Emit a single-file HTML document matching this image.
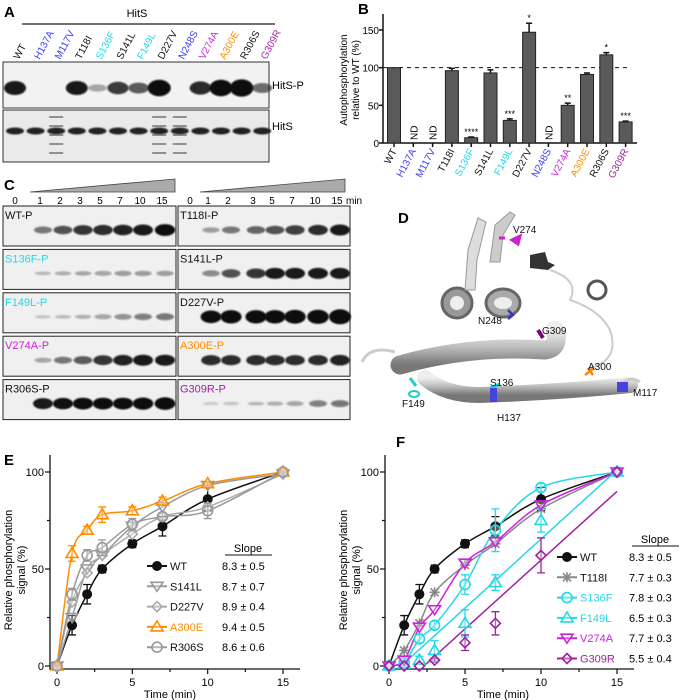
<!DOCTYPE html>
<html><head><meta charset="utf-8">
<style>
html,body{margin:0;padding:0;background:#fff;}
svg{display:block;font-family:"Liberation Sans",Arial,sans-serif;}
</style></head>
<body>
<svg id="fig" width="683" height="700" viewBox="0 0 683 700" xmlns="http://www.w3.org/2000/svg">
<defs>
<filter id="blur2" x="-50%" y="-50%" width="200%" height="200%"><feGaussianBlur stdDeviation="0.9"/></filter>
<linearGradient id="helix" x1="0" y1="0" x2="0" y2="1"><stop offset="0" stop-color="#eee"/><stop offset="0.5" stop-color="#bbb"/><stop offset="1" stop-color="#777"/></linearGradient>
</defs>

<text x="4" y="17" font-size="15" font-weight="bold">A</text>
<text x="358" y="14" font-size="15" font-weight="bold">B</text>
<text x="4" y="190" font-size="15" font-weight="bold">C</text>
<text x="398" y="223" font-size="15" font-weight="bold">D</text>
<text x="4" y="465" font-size="15" font-weight="bold">E</text>
<text x="396" y="447" font-size="15" font-weight="bold">F</text>

<g id="panelA"></g>
<g id="panelB"></g>
<g id="panelC"></g>
<g id="panelD">
  <path d="M400,365 Q470,345 545,350 Q560,348 555,330" fill="none" stroke="url(#helix)" stroke-width="19" stroke-linecap="round"/>
  <path d="M362,362 Q370,345 395,352" fill="none" stroke="#ccc" stroke-width="3"/>
  <path d="M425,378 Q445,395 480,395 Q560,392 630,385" fill="none" stroke="url(#helix)" stroke-width="16" stroke-linecap="round"/>
  <path d="M537,290 L537,345" fill="none" stroke="url(#helix)" stroke-width="19" stroke-linecap="round"/>
  <circle cx="457" cy="303" r="15" fill="#999" stroke="#666" stroke-width="3"/>
  <circle cx="457" cy="303" r="7" fill="#eee"/>
  <ellipse cx="503" cy="303" rx="17" ry="14" fill="#aaa" stroke="#666" stroke-width="3"/>
  <ellipse cx="503" cy="303" rx="9" ry="6" fill="#eee"/>
  <circle cx="597" cy="290" r="9" fill="none" stroke="#555" stroke-width="3"/>
  <path d="M465,290 L468,250 L478,218 L486,222 L477,260 L475,290 Z" fill="#ddd" stroke="#999"/>
  <path d="M490,262 L495,225 L510,212 L515,215 L503,235 L500,262 Z" fill="#ccc" stroke="#999"/>
  <path d="M530,255 L545,252 L548,262 L555,265 L548,270 L530,268 Z" fill="#333"/>
  <path d="M550,270 Q580,280 570,300 Q600,310 610,330 Q620,360 590,368" fill="none" stroke="#ccc" stroke-width="2"/>
  <path d="M620,385 Q630,375 640,382" fill="none" stroke="#ccc" stroke-width="3"/>
  <path d="M512,240 l8,-4 l-2,8 z M505,238 h-6" stroke="#cc22cc" stroke-width="3" fill="#cc22cc"/>
  <path d="M508,310 l5,5 l-5,4" stroke="#3333cc" stroke-width="2.5" fill="none"/>
  <path d="M538,330 l5,8" stroke="#800080" stroke-width="4"/>
  <path d="M585,375 l8,-6 M588,368 l5,7" stroke="#ff8800" stroke-width="2.5"/>
  <path d="M490,388 l10,-4 M410,378 l6,8" stroke="#22cccc" stroke-width="3"/>
  <ellipse cx="414" cy="394" rx="5" ry="3" fill="none" stroke="#22cccc" stroke-width="2"/>
  <rect x="490" y="388" width="7" height="14" fill="#4444dd"/>
  <rect x="617" y="382" width="11" height="10" fill="#4444dd"/>
  <g font-size="10" fill="#111">
    <text x="513" y="233">V274</text>
    <text x="478" y="324">N248</text>
    <text x="542" y="334">G309</text>
    <text x="588" y="370">A300</text>
    <text x="490" y="386">S136</text>
    <text x="402" y="407">F149</text>
    <text x="497" y="421">H137</text>
    <text x="633" y="396">M117</text>
  </g>
</g>
<g id="panelE"></g>
<g id="panelF"></g>
</svg>

<script>
const NS = "http://www.w3.org/2000/svg";
const C = {blue:"#3a3aff", cyan:"#22d8e8", mag:"#cc22dd", orange:"#ff8c00", purple:"#a020a0", black:"#111", gray:"#999"};

const bCategories = ["WT","H137A","M117V","T118I","S136F","S141L","F149L","D227V","N248S","V274A","A300E","R306S","G309R"];
const bColors = ["black","blue","blue","black","cyan","black","cyan","black","blue","mag","orange","black","purple"];
const bValues = [100,null,null,96,7,93,30,147,null,50,91,117,28];
const bErrors = [0,0,0,3,1,4,2,12,0,3,2,3,1];
const bStars = ["","","","","****","","***","*","","**","","*","***"];
const bTicks = [0,50,100,150];

const times = [0,1,2,3,5,7,10,15];
const wt = [0,21,37,50,63,72,86,100];
const wtErr = [0,5,5,2,2,5,6,1];
const s141l = [0,25,50,57,72,82,93,99];
const d227v = [0,33,48,57,68,77,82,99];
const a300e = [0,58,70,78,80,85,94,100];
const a300eErr = [0,4,2,4,2,2,1,0];
const r306s = [0,37,57,61,73,77,80,100];
const r306sErr = [0,3,3,4,3,2,4,0];
const t118i = [0,8,22,38,52,63,81,100];
const s136f = [0,2,14,21,42,70,92,100];
const s136fErr = [0,1,2,2,5,11,2,0];
const f149l = [0,1,3,8,22,43,75,100];
const f149lErr = [0,1,2,5,7,4,6,0];
const v274a = [0,3,20,29,53,64,83,100];
const g309r = [0,0,0,3,12,22,57,100];
const g309rErr = [0,0,0,1,4,6,9,0];
const f149lFit = [[0.8,0],[15,101]];
const g309rFit = [[2.3,0],[15,90]];
const xTicks = [0,5,10,15];
const yTicks = [0,50,100];
const eLegend = ["WT","S141L","D227V","A300E","R306S"];
const eSlopes = ["8.3 ± 0.5","8.7 ± 0.7","8.9 ± 0.4","9.4 ± 0.5","8.6 ± 0.6"];
const fLegend = ["WT","T118I","S136F","F149L","V274A","G309R"];
const fSlopes = ["8.3 ± 0.5","7.7 ± 0.3","7.8 ± 0.3","6.5 ± 0.3","7.7 ± 0.3","5.5 ± 0.4"];

const aLanes = ["WT","H137A","M117V","T118I","S136F","S141L","F149L","D227V","N248S","V274A","A300E","R306S","G309R"];
const aPhos = [1,0,0,1,0.15,0.8,0.6,1.3,0,0.9,1.3,1.4,0.5];
const cTimes = ["0","1","2","3","5","7","10","15"];
const cBlots = ["WT-P","T118I-P","S136F-P","S141L-P","F149L-P","D227V-P","V274A-P","A300E-P","R306S-P","G309R-P"];
const cBlotColors = ["black","black","cyan","black","cyan","black","mag","orange","black","purple"];
const cIntensity = [
 [0,0.5,0.7,0.85,0.9,0.95,1,1.1],
 [0,0.3,0.5,0.6,0.7,0.8,0.9,1],
 [0,0.1,0.15,0.2,0.25,0.3,0.3,0.3],
 [0,0.4,0.7,0.85,1,1,1,1],
 [0,0.05,0.08,0.15,0.25,0.35,0.45,0.5],
 [0,1.2,1.3,1.3,1.3,1.35,1.4,1.5],
 [0,0.25,0.5,0.65,0.85,0.95,1,1],
 [0,0.9,0.9,0.9,0.9,0.9,0.9,0.95],
 [0,1,1.05,1.1,1.1,1.1,1.15,1.2],
 [0,0.02,0.05,0.1,0.15,0.25,0.45,0.5]
];

function el(tag, attrs, parent){
  const e = document.createElementNS(NS, tag);
  for (const k in attrs) e.setAttribute(k, attrs[k]);
  parent.appendChild(e); return e;
}
function txt(s, attrs, parent){ const t = el("text", attrs, parent); t.textContent = s; return t; }

(function(){
  const g = document.getElementById("panelA");
  const t0 = txt("HitS", {x:137,y:17,"font-size":11,"text-anchor":"middle"}, g);
  
  
  const ln = el("line",{x1:22,y1:24,x2:275,y2:24,stroke:"#444","stroke-width":1.5},g);
  
  
  const lx = i => 15 + i*20.6;
  aLanes.forEach((n,i)=>{
    const t = txt(n,{x:lx(i)+4,y:60,"font-size":10,fill:C[bColors[i]],transform:`rotate(-62 ${lx(i)+4} 60)`},g);
    
    
  });
  const b1 = el("rect",{x:3,y:62,width:266,height:46,fill:"#f2f2f2",stroke:"#333","stroke-width":1},g);
  
  
  const b2 = el("rect",{x:3,y:110,width:266,height:52,fill:"#eaeaea",stroke:"#333","stroke-width":1},g);
  
  
  aLanes.forEach((n,i)=>{
    const v = aPhos[i];
    if (v>0){
      const b = el("ellipse",{cx:lx(i),cy:88,rx:9+v*2,ry:3+v*4,fill:"#111","fill-opacity":Math.min(1,0.25+v*0.7),filter:"url(#blur2)"},g);
      
      
    }
    const b = el("ellipse",{cx:lx(i),cy:131,rx:9,ry:3.5,fill:"#222",filter:"url(#blur2)"},g);
    
    
    if (i===2||i===7||i===8){
      for(let k=0;k<5;k++){
        const s = el("rect",{x:lx(i)-7,y:116+k*9,width:14,height:2,fill:"#555","fill-opacity":0.6},g);
        
        
      }
    }
  });
  const l1 = txt("HitS-P",{x:272,y:89,"font-size":11},g);
  
  
  const l2 = txt("HitS",{x:272,y:130,"font-size":11},g);
  
  
})();

(function(){
  const g = document.getElementById("panelB");
  const x0 = 383, y0 = 143, yTop = 30;
  const ys = v => y0 - v/150*(y0-yTop);
  const xc = i => 394 + i*19.3;
  const ax = el("path",{d:`M${x0},14 V${y0} H637`,fill:"none",stroke:"#111","stroke-width":1.5},g);
  
  
  bTicks.forEach(t=>{
    const tl = el("line",{x1:x0-4,y1:ys(t),x2:x0,y2:ys(t),stroke:"#111","stroke-width":1.5},g);
    
    
    const tt = txt(String(t),{x:x0-4,y:ys(t)+4,"font-size":10,"text-anchor":"end"},g);
    
    
  });
  const yl = txt("Autophosphorylation",{x:0,y:0,"font-size":10,"text-anchor":"middle",transform:`translate(347,80) rotate(-90)`},g);
  
  
  const yl2 = txt("relative to WT (%)",{x:0,y:0,"font-size":10,"text-anchor":"middle",transform:`translate(359,80) rotate(-90)`},g);
  
  
  const ref = el("line",{x1:x0,y1:ys(100),x2:630,y2:ys(100),stroke:"#111","stroke-dasharray":"4,4","stroke-width":1},g);
  
  
  bCategories.forEach((n,i)=>{
    const x = xc(i), v = bValues[i];
    const tk = el("line",{x1:x,y1:y0,x2:x,y2:y0+4,stroke:"#111","stroke-width":1.5},g);
    
    
    if (v===null){
      const nd = txt("ND",{x:0,y:0,"font-size":10,transform:`translate(${x+4},${y0-3}) rotate(-90)`},g);
      
      
    } else {
      const e = bErrors[i];
      if (e>0){
        const eb = el("path",{d:`M${x},${ys(v)} V${ys(v+e)} M${x-3},${ys(v+e)} H${x+3}`,stroke:"#111","stroke-width":1.5,fill:"none"},g);
        
        
      }
      const r = el("rect",{x:x-6.5,y:ys(v),width:13,height:y0-ys(v),fill:"#5a5a5a",stroke:"#222","stroke-width":1},g);
      
      
      if (bStars[i]){
        const s = txt(bStars[i],{x:x,y:ys(v+e)-2,"font-size":9,"text-anchor":"middle"},g);
        
        
      }
    }
    const lb = txt(n,{x:0,y:0,"font-size":10,fill:C[bColors[i]],"text-anchor":"end",transform:`translate(${x+3},${y0+8}) rotate(-62)`},g);
    
    
  });
})();

(function(){
  const g = document.getElementById("panelC");
  const leftX = [15,40,60,80,100,120,140,162];
  const rightX = [190,208,228,253,272,292,315,337];
  [[30,175],[200,345]].forEach(([a,b])=>{
    const p = el("path",{d:`M${a},192 L${b},179 L${b},192 Z`,fill:"#aaa",stroke:"#444","stroke-width":0.8},g);
    
    
  });
  cTimes.forEach((t,i)=>{
    [leftX,rightX].forEach(xs=>{
      const tt = txt(t,{x:xs[i],y:204,"font-size":10,"text-anchor":"middle"},g);
      
      
    });
  });
  const mn = txt("min",{x:346,y:204,"font-size":10},g);
  
  
  cBlots.forEach((name,k)=>{
    const col = k%2, row = Math.floor(k/2);
    const bx = col===0?3:178, by = 206 + row*43.4, bw = col===0?173:172, bh = 40;
    const xs = col===0?leftX:rightX;
    const r = el("rect",{x:bx,y:by,width:bw,height:bh,fill:"#f0f0f0",stroke:"#222","stroke-width":1},g);
    
    
    cIntensity[k].forEach((v,i)=>{
      if (v<=0) return;
      const b = el("ellipse",{cx:xs[i]+3,cy:by+bh*0.6,rx:8+v*2,ry:1.5+v*4,fill:"#111","fill-opacity":Math.min(1,0.15+v*0.8),filter:"url(#blur2)"},g);
      
      
    });
    const l = txt(name,{x:bx+2,y:by+13,"font-size":11,fill:C[cBlotColors[k]]},g);
    
    
  });
})();

function marker(g, type, x, y, color){
  let m;
  if (type==="dot") m = el("circle",{cx:x,cy:y,r:5,fill:color},g);
  else if (type==="circle") m = el("circle",{cx:x,cy:y,r:5,fill:"#fff","fill-opacity":0.3,stroke:color,"stroke-width":1.6},g);
  else if (type==="tri") m = el("path",{d:`M${x},${y-6} L${x+6},${y+4} L${x-6},${y+4} Z`,fill:"#fff","fill-opacity":0.3,stroke:color,"stroke-width":1.6},g);
  else if (type==="vtri") m = el("path",{d:`M${x},${y+5} L${x+6},${y-4} L${x-6},${y-4} Z`,fill:"#fff","fill-opacity":0.3,stroke:color,"stroke-width":1.6},g);
  else if (type==="dia") m = el("path",{d:`M${x},${y-5} L${x+5},${y} L${x},${y+5} L${x-5},${y} Z`,fill:"#fff","fill-opacity":0.3,stroke:color,"stroke-width":1.6},g);
  else { m = el("path",{d:`M${x-5},${y} H${x+5} M${x},${y-5} V${y+5} M${x-4},${y-4} L${x+4},${y+4} M${x-4},${y+4} L${x+4},${y-4}`,stroke:color,"stroke-width":1.6},g); }
  
  
}
function smoothPath(pts){
  let d = `M${pts[0][0]},${pts[0][1]}`;
  for (let i=0;i<pts.length-1;i++){
    const p0 = pts[Math.max(0,i-1)], p1 = pts[i], p2 = pts[i+1], p3 = pts[Math.min(pts.length-1,i+2)];
    const c1x = p1[0]+(p2[0]-p0[0])/6, c1y = p1[1]+(p2[1]-p0[1])/6;
    const c2x = p2[0]-(p3[0]-p1[0])/6, c2y = p2[1]-(p3[1]-p1[1])/6;
    d += ` C${c1x},${c1y} ${c2x},${c2y} ${p2[0]},${p2[1]}`;
  }
  return d;
}
function kinetics(gid, axX, x0, x15, series, legend, slopes, legX, legY, slopeX, fits){
  const g = document.getElementById(gid);
  const y0 = 666, y100 = 472;
  const xs = t => x0 + t/15*(x15-x0);
  const ys = v => y0 - v/100*(y0-y100);
  const ax = el("path",{d:`M${axX},455 V669 H${x15+17}`,fill:"none",stroke:"#111","stroke-width":1.3},g);
  
  
  for (let t=0;t<=15;t+=2.5){
    const tk = el("line",{x1:xs(t),y1:669,x2:xs(t),y2:t%5===0?674:672,stroke:"#111","stroke-width":1.2},g);
    
    
  }
  xTicks.forEach(t=>{
    const tl = txt(String(t),{x:xs(t),y:686,"font-size":11,"text-anchor":"middle"},g);
    
    
  });
  for (let v=0; v<=100; v+=25){
    const tk = el("line",{x1:axX-(v%50===0?5:3),y1:ys(v),x2:axX,y2:ys(v),stroke:"#111","stroke-width":1.2},g);
    
    
  }
  yTicks.forEach(v=>{
    const tl = txt(String(v),{x:axX-6,y:ys(v)+4,"font-size":11,"text-anchor":"end"},g);
    
    
  });
  const xt = txt("Time (min)",{x:(x0+x15)/2,y:698,"font-size":11,"text-anchor":"middle"},g);
  
  
  const yt = txt("Relative phosphorylation",{x:0,y:0,"font-size":11,"text-anchor":"middle",transform:`translate(${axX-38},570) rotate(-90)`},g);
  
  
  const yt2 = txt("signal (%)",{x:0,y:0,"font-size":11,"text-anchor":"middle",transform:`translate(${axX-25},570) rotate(-90)`},g);
  
  
  series.forEach(s=>{
    const fit = fits && fits[s.name];
    let p;
    if (fit) p = el("path",{d:`M${xs(fit[0][0])},${ys(fit[0][1])} L${xs(fit[1][0])},${ys(fit[1][1])}`,fill:"none",stroke:s.color,"stroke-width":1.5},g);
    else p = el("path",{d:smoothPath(times.map((t,i)=>[xs(t),ys(s.vals[i])])),fill:"none",stroke:s.color,"stroke-width":1.5},g);
    
    
  });
  series.forEach(s=>{
    times.forEach((t,i)=>{
      const x = xs(t), y = ys(s.vals[i]);
      if (s.err && s.err[i]>0){
        const e = s.err[i];
        const eb = el("path",{d:`M${x},${ys(s.vals[i]-e)} V${ys(s.vals[i]+e)} M${x-4},${ys(s.vals[i]-e)} H${x+4} M${x-4},${ys(s.vals[i]+e)} H${x+4}`,stroke:s.color,"stroke-width":1.3,fill:"none"},g);
        
        
      }
      marker(g, s.m, x, y, s.color);
    });
  });
  const sl = txt("Slope",{x:slopeX+26,y:legY-14,"font-size":11,"text-anchor":"middle"},g);
  
  
  const sll = el("line",{x1:slopeX+3,y1:legY-11,x2:slopeX+50,y2:legY-11,stroke:"#111"},g);
  
  
  legend.forEach((n,i)=>{
    const s = series[i], y = legY + i*20.3;
    const ll = el("line",{x1:legX,y1:y,x2:legX+20,y2:y,stroke:s.color,"stroke-width":2},g);
    
    
    marker(g, s.m, legX+10, y, s.color);
    const lt = txt(n,{x:legX+23,y:y+4,"font-size":11,fill:s.text||s.color},g);
    
    
    const st = txt(slopes[i],{x:slopeX,y:y+4,"font-size":11},g);
    
    
  });
}
kinetics("panelE", 50, 57, 283, [
  {name:"WT", vals:wt, err:wtErr, color:C.black, m:"dot"},
  {name:"S141L", vals:s141l, color:"#999", text:"#111", m:"vtri"},
  {name:"D227V", vals:d227v, color:"#aaa", text:"#111", m:"dia"},
  {name:"A300E", vals:a300e, err:a300eErr, color:C.orange, m:"tri"},
  {name:"R306S", vals:r306s, err:r306sErr, color:"#999", text:"#111", m:"circle"}
], eLegend, eSlopes, 147, 566, 222, null);
kinetics("panelF", 385, 389, 617, [
  {name:"WT", vals:wt, err:wtErr, color:C.black, m:"dot"},
  {name:"T118I", vals:t118i, color:"#888", text:"#111", m:"star"},
  {name:"S136F", vals:s136f, err:s136fErr, color:C.cyan, m:"circle"},
  {name:"F149L", vals:f149l, err:f149lErr, color:C.cyan, m:"tri"},
  {name:"V274A", vals:v274a, color:C.mag, m:"vtri"},
  {name:"G309R", vals:g309r, err:g309rErr, color:C.purple, m:"dia"}
], fLegend, fSlopes, 557, 557, 629, {F149L:f149lFit, G309R:g309rFit});
</script>
</body></html>
